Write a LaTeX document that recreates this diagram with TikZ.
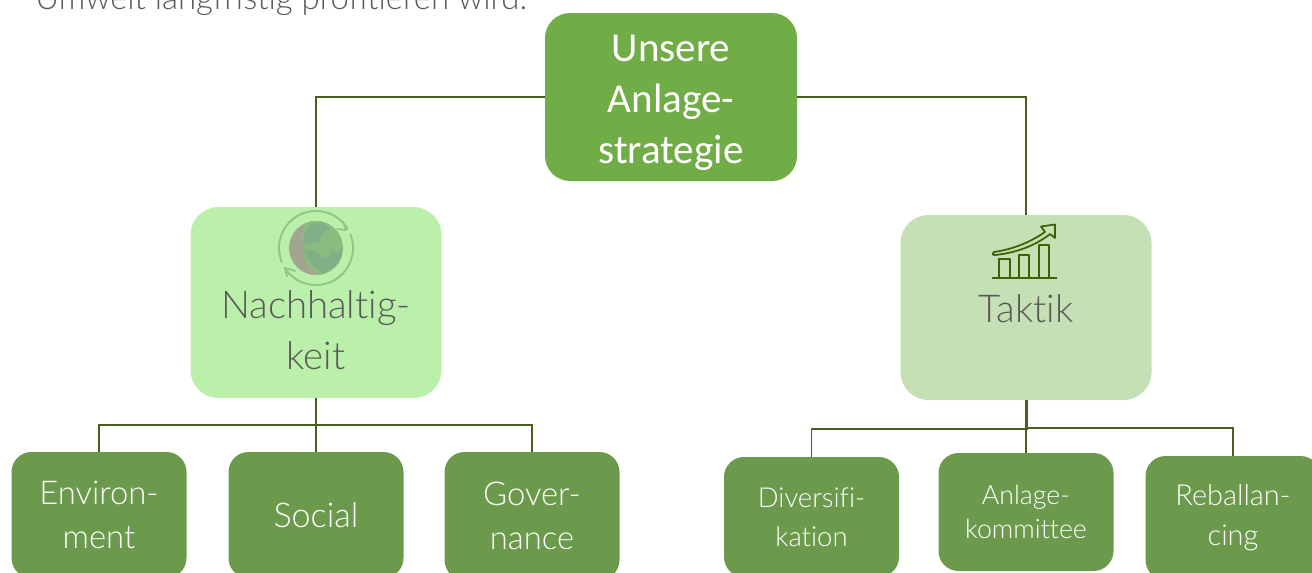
\documentclass[tikz,border=0pt]{standalone}
\usepackage{fontspec}
\setmainfont[Ligatures=NoCommon]{Lato Light}
\newfontfamily\topfont[Ligatures=NoCommon]{Carlito}
\definecolor{topgreen}{HTML}{70AD47}
\definecolor{nachgreen}{HTML}{BBF0AA}
\definecolor{takgreen}{HTML}{C5E0B4}
\definecolor{leafgreen}{HTML}{6C9A4D}
\definecolor{wire}{HTML}{4A5E20}
\definecolor{greytext}{HTML}{595959}
\definecolor{ringc}{HTML}{8FC587}
\definecolor{landc}{HTML}{8CBB80}
\definecolor{darkland}{HTML}{80B088}
\definecolor{shadowc}{HTML}{A3A68E}
\definecolor{chartc}{HTML}{3F6000}
\tikzset{
  boxbase/.style={draw=none,rounded corners=#1,inner sep=0pt,align=center},
  toplevel/.style={boxbase=25*0.75pt,fill=topgreen,text=white,minimum width=252*0.75pt,minimum height=168*0.75pt},
  midlevel/.style={boxbase=28*0.75pt,minimum width=251*0.75pt},
  leaf/.style={boxbase=20*0.75pt,fill=leafgreen,text=white,minimum width=175*0.75pt},
  midtext/.style={text=greytext,align=center,inner sep=0pt,font=\fontsize{28.8}{38.2}\selectfont},
  wirel/.style={draw=wire,line width=1pt},
  ringl/.style={draw=ringc,line width=1.4pt,line cap=round,line join=round},
  chartl/.style={draw=chartc,line width=1.3pt,line join=round},
}
\begin{document}
\begin{tikzpicture}[x=0.75pt,y=-0.75pt]
\useasboundingbox (0,0) rectangle (1312,572);
\clip (0,0) rectangle (1312,572);
\node[anchor=base west,text=greytext,inner sep=0pt,font=\fontsize{24.7}{30}\selectfont] (intro) at (35,9) {Umwelt langfristig profitieren wird.};
% boxes
\node[toplevel] (top) at (671,97) {};
\node[text=white,align=center,inner sep=0pt,font=\topfont\fontsize{30.8}{38.2}\selectfont] (toptext) at (671,103) {Unsere\\Anlage-\\strategie};
\node[midlevel,fill=nachgreen,minimum height=191*0.75pt] (nach) at (316,302.5) {};
\node[midlevel,fill=takgreen,minimum height=185*0.75pt] (takt) at (1026,307.5) {};
\node[leaf,minimum height=126*0.75pt,font=\fontsize{24.6}{33}\selectfont] (env) at (99,515) {Environ-\\ment};
\node[leaf,minimum height=126*0.75pt,font=\fontsize{25.6}{33}\selectfont] (soc) at (316,515) {Social};
\node[leaf,minimum height=128*0.75pt,font=\fontsize{24.6}{33}\selectfont] (gov) at (532,516) {Gover-\\nance};
\node[leaf,minimum height=120*0.75pt,font=\fontsize{20.6}{29}\selectfont] (div) at (811.5,517) {Diversifi-\\kation};
\node[leaf,minimum height=118*0.75pt,font=\fontsize{20}{26}\selectfont] (anl) at (1026,512) {Anlage-\\kommittee};
\node[leaf,minimum height=124*0.75pt,font=\fontsize{21.7}{30}\selectfont] (reb) at (1233,518) {Reballan-\\cing};
\node[midtext] (nacht) at (316,330) {Nachhaltig-\\keit};
\node[midtext] (takt2) at (1026,309) {Taktik};
% connectors
\coordinate (nj) at (316,425);
\coordinate (tj) at (1027,429);
\coordinate (tk) at (1027,428);
\draw[wirel] (top.west) -| (nach.north);
\draw[wirel] (top.east) -| (takt.north);
\draw[wirel] (nach.south) -- (nj) -| (env.north);
\draw[wirel] (nj) -| (gov.north);
\draw[wirel] (nach.south) -- (soc.north);
\draw[wirel] (takt.south) ++(1,0) -- (tj) -| (div.north);
\draw[wirel] (tk) -| (reb.north);
\draw[wirel] (takt.south) -- (anl.north);
% globe icon
\begin{scope}
\clip (316,248) circle [radius=27];
\fill[shadowc] (289,221) rectangle (343,275);
\fill[landc] (305,221) .. controls (301,235) and (302,250) .. (305,260) .. controls (309,268) and (316,274) .. (325,277) -- (345,277) -- (345,220) -- cycle;
\fill[darkland] (305,233) -- (310,225) -- (322,222) -- (330,228) -- (323,233) -- (318,242) -- (310,243) -- (303,245) -- cycle;
\fill[darkland] (303,250) -- (313,250) -- (323,258) -- (333,255) -- (328,248) -- (337,253) -- (343,247) -- (340,263) -- (323,274) -- (312,265) -- cycle;
\end{scope}
\draw[ringl] plot[smooth,domain=203:31,samples=30] ({316+37*cos(\x)},{248-37*sin(\x)});
\draw[ringl] plot[smooth,domain=22:-147,samples=30] ({316+37*cos(\x)},{248-37*sin(\x)});
\draw[ringl] (337,229) -- (346,230) -- (343,222);
\draw[ringl] (287,276) -- (285,268) -- (295,271);
% chart icon
\draw[chartl] (992,278) -- (1057,278);
\draw[chartl] (999.3,278) -- (999.3,259.3) -- (1010,259.3) -- (1010,278);
\draw[chartl] (1019,278) -- (1019,255) -- (1029.3,255) -- (1029.3,278);
\draw[chartl] (1038.7,278) -- (1038.7,245) -- (1049,245) -- (1049,278);
\draw[chartl] (994,252) .. controls (1015,249) and (1032,241) .. (1045,232) -- (1041,226.5) -- (1055,224.5) -- (1055,238) -- (1050,234) .. controls (1035,246) and (1015,253) .. (995,255) .. controls (992,255) and (992,253) .. (994,252) -- cycle;
\end{tikzpicture}
\end{document}
